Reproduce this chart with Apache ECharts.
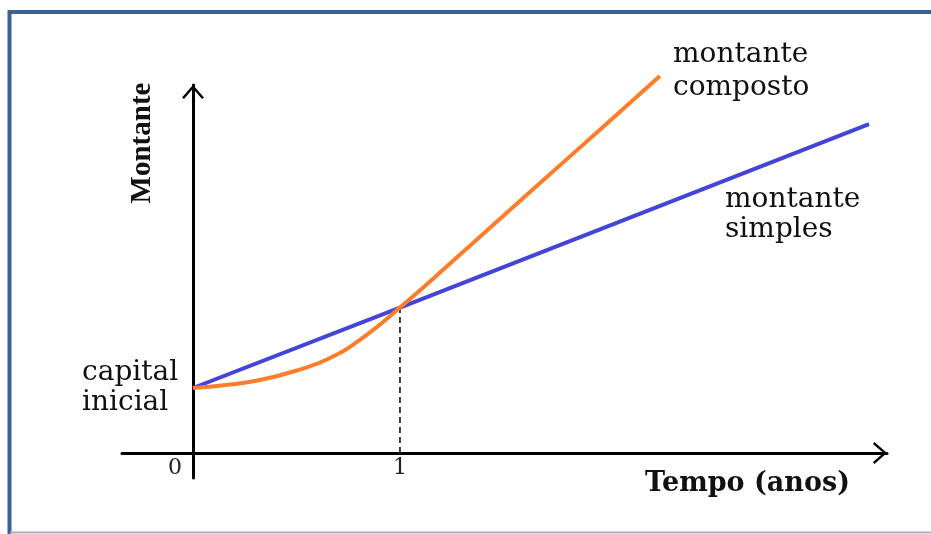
<!DOCTYPE html>
<html><head><meta charset="utf-8">
<script src="https://cdn.jsdelivr.net/npm/echarts@6/dist/echarts.min.js"></script>
<style>html,body{margin:0;padding:0;background:#fff}#c{width:931px;height:534px}</style>
</head><body><div id="c"></div>
<script>
// Data (time in years, amount in units of the initial capital)
const simpleT = [0, 1, 3.266];
const simpleV = [1, 2.238, 5.06];
const compT = [0, 0.159, 0.324, 0.493, 0.662, 0.831, 1, 1.242, 1.628, 1.966, 2.256];
const compV = [1, 1.046, 1.123, 1.262, 1.462, 1.8, 2.238, 2.915, 4.015, 4.974, 5.8];
const guideT = [1, 1];
const guideV = [0, 2.238];
const xTickValues = [0, 1];
const xTickLabels = ['0', '1'];

const zip = (a, b) => a.map((v, i) => [v, b[i]]);
const chev = 'path://M11,0 L22,12.6 L20,14 L11,3.6 L2,14 L0,12.6 Z';
const serif = 'DejaVu Serif';

const chart = echarts.init(document.getElementById('c'));
chart.setOption({
  animation: false,
  backgroundColor: '#fff',
  grid: { left: 122, right: 931 - 887, top: 85, bottom: 534 - 478, containLabel: false },
  xAxis: {
    type: 'value', min: -0.343, max: 3.353,
    splitLine: { show: false },
    axisTick: { show: false },
    axisLine: { onZero: true, lineStyle: { color: '#000', width: 3 },
      symbol: ['none', chev], symbolSize: [22, 14], symbolOffset: [0, -7] },
    axisLabel: {
      customValues: xTickValues,
      margin: -21,
      color: '#222', fontFamily: serif, fontSize: 22,
      formatter: v => v === 0 ? '{z|' + xTickLabels[0] + '}' : '{o|' + xTickLabels[xTickValues.indexOf(v)] + '}',
      rich: {
        z: { fontFamily: serif, fontSize: 22, color: '#222', padding: [0, 36, 0, 0] },
        o: { fontFamily: serif, fontSize: 22, color: '#222' }
      }
    }
  },
  yAxis: {
    type: 'value', min: -0.3846, max: 5.662,
    splitLine: { show: false },
    axisTick: { show: false },
    axisLabel: { show: false },
    axisLine: { onZero: true, lineStyle: { color: '#000', width: 3 },
      symbol: ['none', chev], symbolSize: [22, 14], symbolOffset: [0, -7] }
  },
  series: [
    { type: 'line', data: zip(guideT, guideV), symbol: 'none', silent: true,
      lineStyle: { color: '#000', width: 1.5, type: [6, 4] }, z: 1 },
    { type: 'line', data: zip(simpleT, simpleV), symbol: 'none', clip: false,
      lineStyle: { color: '#4444d8', width: 4 }, z: 3 },
    { type: 'line', data: zip(compT, compV), symbol: 'none', smooth: 0.5, clip: false,
      lineStyle: { color: '#fd7e2a', width: 4 }, z: 4 }
  ],
  graphic: [
    { type: 'rect', shape: { x: 9.5, y: 12, width: 980, height: 600 },
      style: { fill: 'none', stroke: '#3e6194', lineWidth: 4 }, silent: true },
    { type: 'line', shape: { x1: 10, y1: 532.5, x2: 931, y2: 532.5 },
      style: { stroke: '#a9b1c7', lineWidth: 2 }, silent: true },
    { type: 'text', x: 143, y: 143, rotation: Math.PI / 2,
      style: { text: 'Montante', font: 'bold 29px "Liberation Serif"', fill: '#111',
        align: 'center', verticalAlign: 'middle' } },
    { type: 'text', x: 645, y: 484,
      style: { text: 'Tempo (anos)', font: 'bold 27px "DejaVu Serif"', fill: '#111',
        align: 'left', verticalAlign: 'middle' } },
    { type: 'text', x: 82, y: 388,
      style: { text: 'capital\ninicial', font: '28px "DejaVu Serif"', fill: '#111',
        lineHeight: 30, align: 'left', verticalAlign: 'middle' } },
    { type: 'text', x: 673, y: 71.5,
      style: { text: 'montante\ncomposto', font: '28px "DejaVu Serif"', fill: '#111',
        lineHeight: 33, align: 'left', verticalAlign: 'middle' } },
    { type: 'text', x: 725, y: 215,
      style: { text: 'montante\nsimples', font: '28px "DejaVu Serif"', fill: '#111',
        lineHeight: 30, align: 'left', verticalAlign: 'middle' } }
  ]
});
</script>
</body></html>
